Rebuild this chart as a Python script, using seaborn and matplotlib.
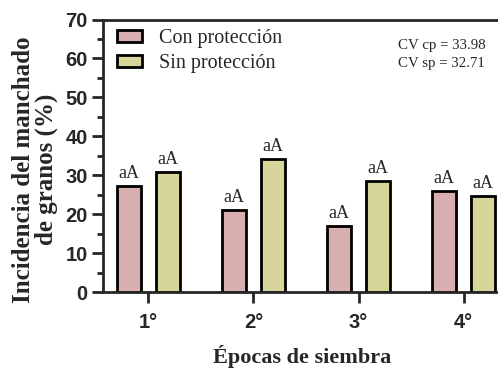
import pandas as pd
import numpy as np
import seaborn as sns
import matplotlib.pyplot as plt
from matplotlib.ticker import MultipleLocator

epocas = ["1°", "2°", "3°", "4°"]
tratamientos = ["Con protección", "Sin protección"]
con_proteccion = [27.2, 21.0, 17.1, 26.0]
sin_proteccion = [30.9, 34.3, 28.6, 24.6]
letras_cp = ["aA", "aA", "aA", "aA"]
letras_sp = ["aA", "aA", "aA", "aA"]
colores = ["#d8aeae", "#d6d69a"]

df = pd.DataFrame({
    "epoca": epocas * 2,
    "tratamiento": [tratamientos[0]] * 4 + [tratamientos[1]] * 4,
    "valor": con_proteccion + sin_proteccion,
})

sns.set_style("ticks")
plt.rcParams["font.family"] = ["Liberation Serif"]

fig = plt.figure(figsize=(4.98, 3.68), dpi=100)
ax = fig.add_axes([0.207, 0.206, 0.80, 0.741])

sns.barplot(data=df, x="epoca", y="valor", hue="tratamiento", palette=colores, saturation=1,
            width=0.74, gap=0.38, edgecolor="black", linewidth=2, ax=ax)

# letras sobre las barras
for cont, letras in zip(ax.containers, [letras_cp, letras_sp]):
    for barra, letra in zip(cont, letras):
        ax.text(barra.get_x() + barra.get_width() / 2, barra.get_height() + 1.0, letra,
                ha="center", va="bottom", fontsize=13)

ax.set_ylim(0, 70)
ax.set_xlim(-0.43, 3.36)
ax.yaxis.set_major_locator(MultipleLocator(10))
ax.yaxis.set_minor_locator(MultipleLocator(5))
for s in ["left", "bottom", "top"]:
    ax.spines[s].set_linewidth(2)
ax.spines["right"].set_visible(False)
ax.tick_params(axis="both", which="major", length=8, width=2, labelsize=14.5)
ax.tick_params(axis="y", which="minor", length=4, width=2)
for lab in ax.get_xticklabels() + ax.get_yticklabels():
    lab.set_fontfamily("Liberation Sans")
    lab.set_fontweight("bold")
ax.tick_params(axis="x", pad=7)
ax.tick_params(axis="y", pad=3)

ax.set_xlabel("Épocas de siembra", fontsize=16, fontweight="bold", labelpad=9)
ax.set_ylabel("Incidencia del manchado\nde granos (%)", fontsize=18, fontweight="bold",
              linespacing=1.0)
ax.yaxis.set_label_coords(-0.113, 0.45)

ax.legend(loc="upper left", bbox_to_anchor=(-0.01, 1.03), frameon=False, fontsize=14.5,
          handlelength=1.25, handleheight=0.55, handletextpad=0.8, labelspacing=0.3)

ax.text(0.74, 0.93, "CV cp = 33.98\nCV sp = 32.71", transform=ax.transAxes,
        fontsize=10.7, va="top", ha="left", linespacing=1.55)

fig.savefig("out.png", dpi=100)
